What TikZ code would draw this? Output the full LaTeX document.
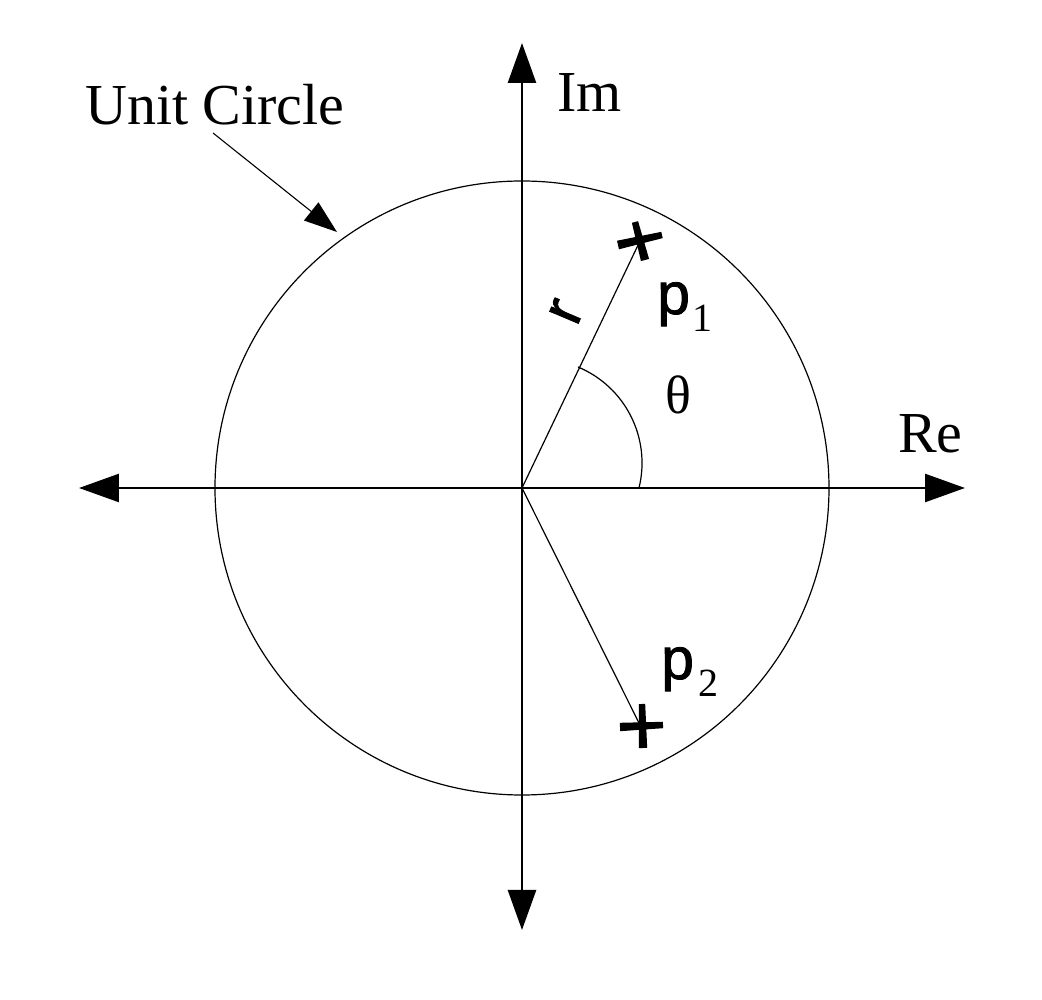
\documentclass[tikz,border=0pt]{standalone}
\usepackage{fontspec}
\setmainfont{Liberation Serif}
\newfontfamily\hvfont[FakeBold=1.4]{Liberation Sans}
\usetikzlibrary{arrows.meta,calc}
\newcommand{\taperstroke}[4]{%
  \fill ($(#1)!#3!90:(#2)$) -- ($(#1)!#3!-90:(#2)$) --
        ($(#2)!#4!90:(#1)$) -- ($(#2)!#4!-90:(#1)$) -- cycle;}
\begin{document}
\begin{tikzpicture}[x=1pt,y=1pt,
  axisline/.style={line width=2.6pt,
    {Triangle[length=40pt,width=28pt]}-{Triangle[length=40pt,width=28pt]}},
  fineline/.style={line width=1.2pt},
  serlbl/.style={inner sep=0pt, font=\fontsize{58}{60}\selectfont},
  sanslbl/.style={inner sep=0pt, font=\hvfont\fontsize{59}{62}\selectfont},
  sublbl/.style={inner sep=0pt, font=\fontsize{40}{44}\selectfont},
  pointer/.style={line width=1.1pt, -{Triangle[length=33pt,width=23pt]}}
]
\useasboundingbox (-522,-512) rectangle (520,488);
\fill[white] (-522,-512) rectangle (520,488);

% axes
\coordinate (O) at (0,0);
\coordinate (W) at (-443,0);
\coordinate (E) at (443,0);
\coordinate (N) at (0,445);
\coordinate (S) at (0,-442);

% unit circle
\draw[fineline] (O) circle[radius=307];

\draw[axisline] (W) -- (E);
\draw[axisline] (S) -- (N);

% axis labels
\node[serlbl, anchor=base west] (im) at (35,376) {Im};
\node[serlbl, anchor=base west] (re) at (376,35) {Re};
\node[serlbl, anchor=base west] (ucl) at (-437,363) {Unit Circle};

% pointer to the circle
\coordinate (ucs) at (-309,355);
\coordinate (uct) at (-185,256);
\draw[pointer] (ucs) -- (uct);

% poles
\coordinate (p1) at (118,247);
\coordinate (p2) at (119,-239);
\draw[fineline] (O) -- (p1);
\draw[fineline] (O) -- (p2);

% pole crosses
\coordinate (a1) at (96,243);  \coordinate (b1) at (140,253);
\coordinate (c1) at (113,266); \coordinate (d1) at (123,228);
\coordinate (a2) at (98,-239); \coordinate (b2) at (141,-237);
\coordinate (c2) at (120,-216);\coordinate (d2) at (121,-260);
\taperstroke{a1}{b1}{4.4pt}{3.2pt}
\taperstroke{c1}{d1}{3.2pt}{4.2pt}
\taperstroke{a2}{b2}{4.2pt}{3.2pt}
\taperstroke{c2}{d2}{3.2pt}{4.2pt}

% angle arc
\draw[fineline] (56,121) arc[start angle=67.4, end angle=-13.4, radius=104];

% labels
\node[sanslbl, anchor=base west] (p1l) at (135,174) {p};
\node[sublbl, anchor=base west] (p1s) at (170,156) {1};
\node[sanslbl, anchor=base west] (p2l) at (139,-191) {p};
\node[sublbl, anchor=base west] (p2s) at (176,-209) {2};
\node[serlbl, font=\fontsize{54}{56}\selectfont] (th) at (156,93) {θ};
\node[sanslbl, rotate=67] (rl) at (44,176) {r};
\end{tikzpicture}
\end{document}
